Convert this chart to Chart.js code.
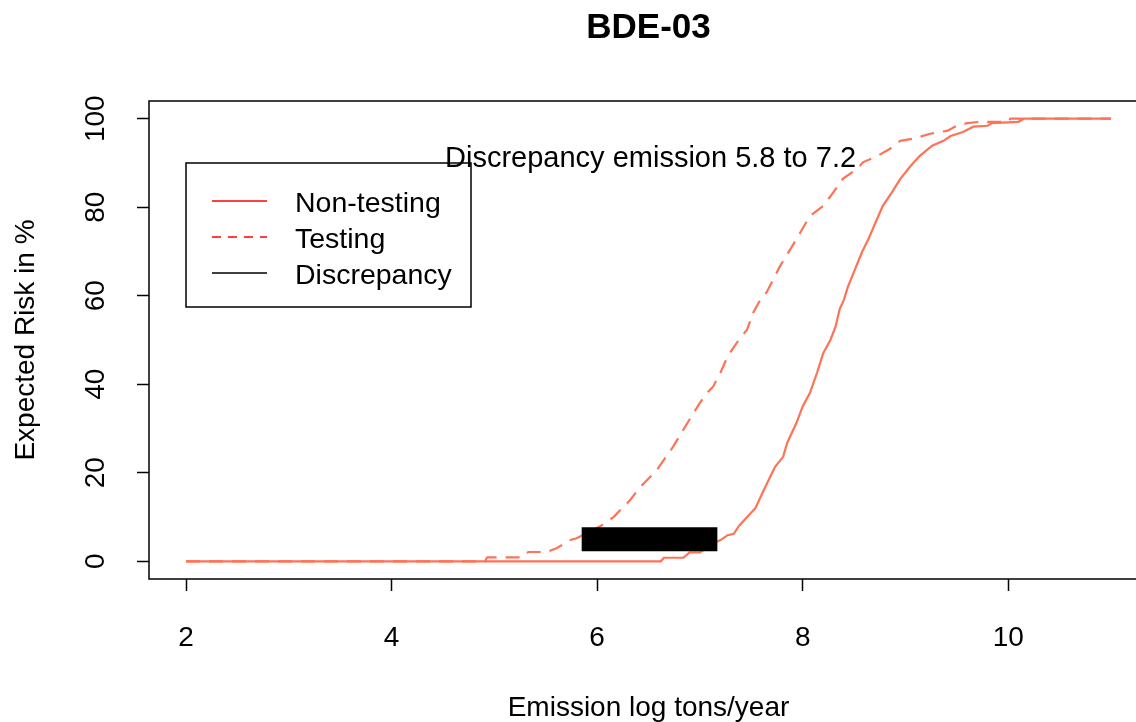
<!DOCTYPE html>
<html>
<head>
<meta charset="utf-8">
<script src="https://cdn.jsdelivr.net/npm/chart.js@4/dist/chart.umd.min.js"></script>
<style>
  html, body { margin: 0; padding: 0; background: #fff; overflow: hidden; }
  canvas { display: block; }
</style>
</head>
<body>
<canvas id="chart" width="1170" height="722"></canvas>
<script>
'use strict';

// Emission (log tons/year) vs expected risk (%).
const nonTestingX = [2, 6.62, 6.65, 6.84, 6.90, 7.00, 7.13, 7.20, 7.27, 7.33, 7.38, 7.46, 7.54,
  7.62, 7.73, 7.81, 7.85, 7.94, 8.00, 8.07, 8.14, 8.20, 8.27, 8.32, 8.36, 8.40, 8.44, 8.51,
  8.58, 8.64, 8.71, 8.78, 8.87, 8.95, 9.05, 9.14, 9.26, 9.37, 9.44, 9.56, 9.66, 9.80, 9.84,
  10.10, 10.15, 11];
const nonTestingY = [0, 0, 0.8, 0.8, 2, 2, 4, 4.8, 5.9, 6.2, 8, 10, 12,
  16, 21.3, 23.6, 26.8, 31.3, 35, 38, 42.6, 47, 50, 53, 57, 59, 62, 66,
  70, 72.8, 76.6, 80.3, 83.4, 86.4, 89.3, 91.6, 93.9, 95, 96.1, 97, 98.2, 98.4, 99,
  99.3, 100, 100];

const testingX = [2, 4.91, 4.93, 5.27, 5.33, 5.51, 5.61, 5.74, 5.80, 6.03, 6.16, 6.32, 6.42,
  6.58, 6.74, 6.88, 7.00, 7.08, 7.13, 7.20, 7.27, 7.36, 7.46, 7.52, 7.59, 7.65, 7.78, 7.88,
  7.98, 8.07, 8.20, 8.30, 8.39, 8.53, 8.59, 8.73, 8.85, 8.95, 9.08, 9.24, 9.41, 9.50, 9.60,
  9.73, 10.00, 10.02, 11];
const testingY = [0, 0, 0.9, 0.9, 2.1, 2.1, 3, 4.8, 5.2, 7.9, 10, 13.8, 16.8,
  20.6, 25.9, 31.3, 35.8, 38.3, 39.5, 42.6, 46.3, 49.4, 52.4, 56.2, 59.2, 60.8, 66.7, 70.5,
  74.4, 78, 80.3, 83.4, 86.4, 88.7, 90.2, 91.6, 93.2, 95, 95.5, 96.6, 97.3, 98.4, 99,
  99.3, 99.3, 100, 100];

// the discrepancy range, drawn as one thick black segment
const discrepancyX = [5.85, 7.17];
const discrepancyY = [5, 5];

const xTicks = [2, 4, 6, 8, 10];
const yTicks = [0, 20, 40, 60, 80, 100];

const titleText = 'BDE-03';
const xTitle = 'Emission log tons/year';
const yTitle = 'Expected Risk in %';
const noteText = 'Discrepancy emission 5.8 to 7.2';
const noteAt = { x: 6.52, y: 91 };
const legendLabels = ['Non-testing', 'Testing', 'Discrepancy'];

const LINE = '#ff7256';
const FONT = '"Liberation Sans", Arial, Helvetica, sans-serif';

function pts(xs, ys) {
  return xs.map(function (x, i) { return { x: x, y: ys[i] }; });
}

// R-style box round the plot, the text() note and the legend() box.
const decor = {
  id: 'decor',
  afterDatasetsDraw(chart) {
    const ctx = chart.ctx;
    const a = chart.chartArea;
    const xs = chart.scales.x, ys = chart.scales.y;
    ctx.save();
    ctx.strokeStyle = '#000';
    ctx.lineWidth = 1.5;
    ctx.strokeRect(a.left, a.top, a.right - a.left, a.bottom - a.top);

    ctx.fillStyle = '#000';
    ctx.font = '29px ' + FONT;
    ctx.textAlign = 'center';
    ctx.textBaseline = 'middle';
    ctx.fillText(noteText, xs.getPixelForValue(noteAt.x), ys.getPixelForValue(noteAt.y));

    // legend
    const lx = 186, ly = 163, lw = 285, lh = 144;
    ctx.lineWidth = 1.5;
    ctx.strokeRect(lx, ly, lw, lh);
    const rows = [
      { c: '#ff0000', dash: [] },
      { c: '#ff0000', dash: [9, 7] },
      { c: '#000000', dash: [] },
    ];
    ctx.font = '28.5px ' + FONT;
    rows.forEach(function (r, i) {
      const y = ly + 38 + i * 36;
      ctx.beginPath();
      ctx.strokeStyle = r.c;
      ctx.lineWidth = 1.5;
      ctx.setLineDash(r.dash);
      ctx.moveTo(lx + 26, y);
      ctx.lineTo(lx + 81, y);
      ctx.stroke();
      ctx.setLineDash([]);
      ctx.textAlign = 'left';
      ctx.fillText(legendLabels[i], lx + 109, y + 3);
    });
    ctx.restore();
  },
};

new Chart(document.getElementById('chart'), {
  type: 'line',
  data: {
    datasets: [
      {
        label: legendLabels[2],
        data: pts(discrepancyX, discrepancyY),
        borderColor: '#000',
        borderWidth: 24,
        borderCapStyle: 'butt',
        order: 0,
      },
      {
        label: legendLabels[1],
        data: pts(testingX, testingY),
        borderColor: LINE,
        borderWidth: 2.2,
        borderDash: [14, 9],
        order: 1,
      },
      {
        label: legendLabels[0],
        data: pts(nonTestingX, nonTestingY),
        borderColor: LINE,
        borderWidth: 2.2,
        order: 2,
      },
    ],
  },
  options: {
    responsive: false,
    animation: false,
    events: [],
    layout: { padding: { left: 0, top: 0, right: 22, bottom: 0 } },
    elements: { point: { radius: 0 }, line: { tension: 0 } },
    plugins: {
      legend: { display: false },
      tooltip: { enabled: false },
      title: {
        display: true,
        text: titleText,
        color: '#000',
        fullSize: false,
        font: { family: FONT, size: 35, weight: 'bold', lineHeight: 1.2 },
        padding: { top: 7, bottom: 52 },
      },
    },
    scales: {
      x: {
        type: 'linear',
        min: 1.64,
        max: 11.36,
        afterFit(s) { s.height = 143; },
        afterBuildTicks(s) { s.ticks = xTicks.map(function (v) { return { value: v }; }); },
        ticks: {
          color: '#000',
          font: { family: FONT, size: 28 },
          padding: 30,
          maxRotation: 0,
          includeBounds: false,
        },
        grid: {
          drawOnChartArea: false,
          drawTicks: true,
          tickLength: 12,
          tickColor: '#000',
          tickWidth: 1.5,
        },
        border: { display: false },
        title: {
          display: true,
          text: xTitle,
          color: '#000',
          font: { family: FONT, size: 28, lineHeight: 1 },
          padding: { top: -2, bottom: 0 },
        },
      },
      y: {
        type: 'linear',
        min: -4,
        max: 104,
        afterFit(s) { s.width = 149; },
        afterBuildTicks(s) { s.ticks = yTicks.map(function (v) { return { value: v }; }); },
        ticks: {
          color: '#000',
          font: { family: FONT, size: 28 },
          padding: 17,
          minRotation: 90,
          maxRotation: 90,
          crossAlign: 'center',
          includeBounds: false,
        },
        grid: {
          drawOnChartArea: false,
          drawTicks: true,
          tickLength: 12,
          tickColor: '#000',
          tickWidth: 1.5,
        },
        border: { display: false },
        title: {
          display: true,
          text: yTitle,
          color: '#000',
          font: { family: FONT, size: 28, lineHeight: 1.2 },
          padding: { top: 9, bottom: 0 },
        },
      },
    },
  },
  plugins: [decor],
});
</script>
</body>
</html>
